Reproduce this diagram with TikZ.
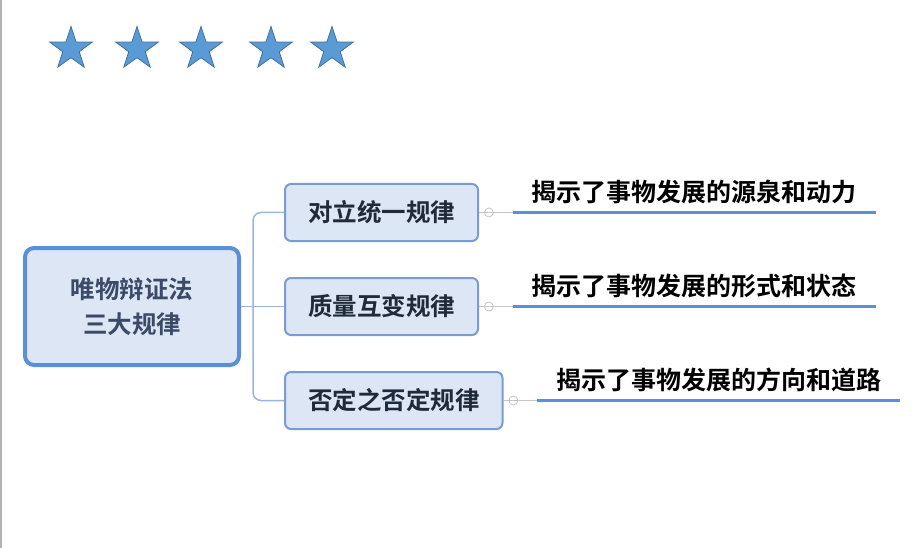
\documentclass[tikz,border=0pt]{standalone}
\usepackage{fontspec}
\newfontfamily\cjk{Noto Sans CJK SC}[BoldFont={Noto Sans CJK SC Bold}]
\usepackage{tikz}
\usetikzlibrary{calc, positioning, shapes.geometric}
\definecolor{xblue}{HTML}{5B8FD6}
\definecolor{xlaw}{HTML}{7A9CD2}
\definecolor{xtwig}{HTML}{9DB5DE}
\definecolor{xpale}{HTML}{DCE6F4}
\definecolor{xslate}{HTML}{3B4A66}
\definecolor{xink}{HTML}{1F2A3A}
\definecolor{xstar}{HTML}{5B9BD5}
\definecolor{xstardark}{HTML}{41719C}
\tikzset{
  staricon/.style = {star, star points=5, star point ratio=2.6, fill=xstar, draw=xstardark, line width=0.8pt, minimum size=45pt, inner sep=0pt},
  rootbox/.style = {draw=xblue, line width=4pt, fill=xpale, rounded corners=9pt, minimum width=214pt, minimum height=117pt, align=center, text=xslate, font=\cjk\bfseries\fontsize{24.5}{35}\selectfont},
  lawbox/.style = {draw=xlaw, line width=2pt, fill=xpale, rounded corners=6pt, minimum height=57pt, inner xsep=23pt, text=xink, font=\cjk\bfseries\fontsize{24.5}{30}\selectfont},
  meaning/.style = {inner sep=0pt, text=black, font=\cjk\bfseries\fontsize{25}{30}\selectfont},
  knob/.style = {circle, draw=gray!45, fill=white, line width=0.8pt, minimum size=9pt, inner sep=0pt},
  branch/.style = {draw=xtwig, line width=1.5pt, rounded corners=8pt},
  twig/.style = {draw=gray!45, line width=1.2pt},
  rule/.style = {draw=xblue, line width=3pt},
}
\begin{document}
\begin{tikzpicture}[x=1pt, y=-1pt]
  \useasboundingbox (0,0) rectangle (918,548);
  \draw[gray!60, line width=1.5pt] (0.75,0) -- (0.75,548);
  % rating
  \foreach \x [count=\i] in {71,137,201,271,332}
    \node[staricon] (star\i) at (\x,49) {};
  % centre and the three laws
  \node[lawbox, anchor=west] (law1) at (284,212.5) {对立统一规律};
  \node[lawbox, below=35pt of law1.south west, anchor=north west] (law2) {质量互变规律};
  \node[lawbox, below=35pt of law2.south west, anchor=north west] (law3) {否定之否定规律};
  \node[rootbox] (root) at (law2.west -| 132,0) {唯物辩证法\\三大规律};
  \coordinate (trunk) at ([xshift=12pt]root.east);
  \draw[branch] (root.east) -- (law2.west);
  \draw[branch] (law1.west) -| (trunk) |- (law3.west);
  % what each law shows
  \foreach \i/\txt in {1/揭示了事物发展的源泉和动力, 2/揭示了事物发展的形式和状态, 3/揭示了事物发展的方向和道路} {
    \node[knob, right=5pt of law\i] (knob\i) {};
    \draw[twig] (law\i) -- (knob\i);
    \draw[twig] (knob\i.west) -- (knob\i.east);
    \coordinate[right=19pt of knob\i.east] (rule\i a);
    \coordinate[right=363pt of rule\i a] (rule\i b);
    \draw[twig] (knob\i) -- (rule\i a);
    \draw[rule] (rule\i a) -- (rule\i b);
    \path (rule\i a) -- (rule\i b) node[meaning, midway, yshift=21pt] (mean\i) {\txt};
  }
\end{tikzpicture}
\end{document}
